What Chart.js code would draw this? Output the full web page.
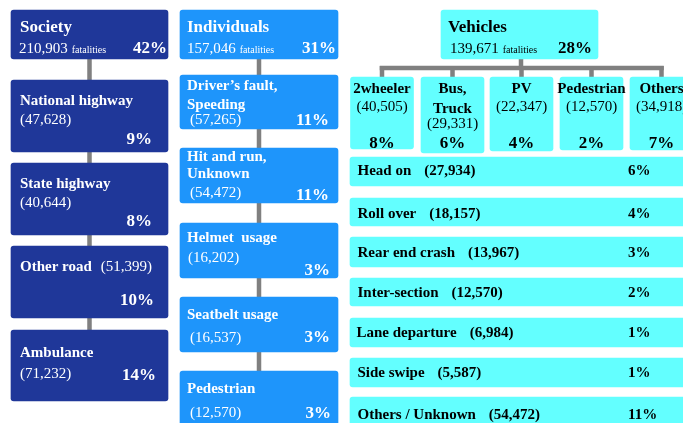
<!DOCTYPE html>
<html>
<head>
<meta charset="utf-8">
<script src="https://cdn.jsdelivr.net/npm/chart.js@4/dist/chart.umd.min.js"></script>
<style>
  html, body { margin: 0; padding: 0; background: #ffffff; }
  canvas { display: block; }
</style>
</head>
<body>
<canvas id="c" width="683" height="423"></canvas>
<script>
// ---------------- DATA ----------------
const topCategories = ['Society', 'Individuals', 'Vehicles'];
const topFatalities = [210903, 157046, 139671];
const topShares = [42, 31, 28];

const roadCategories = ['National highway', 'State highway', 'Other road', 'Ambulance'];
const roadFatalities = [47628, 40644, 51399, 71232];
const roadShares = [9, 8, 10, 14];

const individualCategories = ['Driver\u2019s fault, Speeding', 'Hit and run, Unknown', 'Helmet  usage', 'Seatbelt usage', 'Pedestrian'];
const individualFatalities = [57265, 54472, 16202, 16537, 12570];
const individualShares = [11, 11, 3, 3, 3];

const vehicleCategories = ['2wheeler', 'Bus, Truck', 'PV', 'Pedestrian', 'Others'];
const vehicleFatalities = [40505, 29331, 22347, 12570, 34918];
const vehicleShares = [8, 6, 4, 2, 7];

const crashCategories = ['Head on', 'Roll over', 'Rear end crash', 'Inter-section', 'Lane departure', 'Side swipe', 'Others / Unknown'];
const crashFatalities = [27934, 18157, 13967, 12570, 6984, 5587, 54472];
const crashShares = [6, 4, 3, 2, 1, 1, 11];

// ---------------- LAYOUT (diagram geometry, in canvas units) ----------------
const colLeft = { cx: 89.5, w: 157 };
const colMid = { cx: 259, w: 158 };
const colVeh = { cx: 519.5, w: 157 };
const topBox = { top: 10, bottom: 59 };
const roadTops = [80, 163, 246, 330];
const roadBottoms = [152, 235, 318, 401];
const indTops = [75, 148, 223, 297, 371];
const indBottoms = [129, 203, 278, 352, 426];
const subCenters = [382, 452.5, 521.5, 591.5, 661.5];
const subWidth = 63;
const subTop = 77;
const subBottoms = [149, 153, 151, 150, 150];
const rowBox = { cx: 525, w: 350 };
const rowTops = [157, 198, 237, 278, 318, 358, 397];
const rowBottoms = [186, 226, 267, 306, 347, 387, 430];
const busY = 68;

// text anchors
const roadTitleY = [105, 188, 271, 357];
const roadNumY = [124, 207, 271, 378];
const roadPctY = [144, 226, 305, 380];
const roadPctR = [152, 152, 154, 156];
const indTitleY = [[90, 109], [161, 178], [242], [319], [393]];
const indNumY = [124, 197, 262, 342, 417];
const indPctY = [125, 200, 275, 342, 418];
const indPctR = [329, 329, 330, 330, 331];
const rowTextY = [175, 218, 257, 297, 337, 377, 419];

// styles
const NAVY = '#1f3799';
const BLUE = '#1e95fb';
const CYAN = '#63ffff';
const GREY = '#808080';
const SERIF = '"Liberation Serif", "Times New Roman", serif';

const fmt = n => n.toLocaleString('en-US');

// ---------------- DATASETS ----------------
function barSet(points, color, w) {
  return {
    type: 'bar', data: points, backgroundColor: color, barThickness: w,
    grouped: false, borderRadius: 3, borderSkipped: false, borderWidth: 0, order: 0
  };
}
function lineSet(points) {
  return {
    type: 'line', data: points, borderColor: GREY, borderWidth: 4.5,
    pointRadius: 0, fill: false, order: 1, borderCapStyle: 'butt'
  };
}

const leftBoxes = [{ x: colLeft.cx, y: [topBox.top, topBox.bottom] }]
  .concat(roadCategories.map((c, i) => ({ x: colLeft.cx, y: [roadTops[i], roadBottoms[i]] })));
const midBoxes = [{ x: colMid.cx, y: [topBox.top, topBox.bottom] }]
  .concat(individualCategories.map((c, i) => ({ x: colMid.cx, y: [indTops[i], indBottoms[i]] })));
const vehBox = [{ x: colVeh.cx, y: [topBox.top, topBox.bottom] }];
const subBoxes = vehicleCategories.map((c, i) => ({ x: subCenters[i], y: [subTop, subBottoms[i]] }));
const rowBoxes = crashCategories.map((c, i) => ({ x: rowBox.cx, y: [rowTops[i], rowBottoms[i]] }));

const datasets = [
  barSet(leftBoxes, NAVY, colLeft.w),
  barSet(midBoxes, BLUE, colMid.w),
  barSet(vehBox, CYAN, colVeh.w),
  barSet(subBoxes, CYAN, subWidth),
  barSet(rowBoxes, CYAN, rowBox.w),
  lineSet([{ x: colLeft.cx, y: topBox.bottom }, { x: colLeft.cx, y: roadTops[roadTops.length - 1] }]),
  lineSet([{ x: colMid.cx, y: topBox.bottom }, { x: colMid.cx, y: indTops[indTops.length - 1] }]),
  lineSet([{ x: 521, y: topBox.bottom }, { x: 521, y: busY }]),
  lineSet([{ x: subCenters[0] - 2.25, y: busY }, { x: subCenters[subCenters.length - 1] + 2.25, y: busY }])
].concat(subCenters.map(cx => lineSet([{ x: cx, y: busY - 2 }, { x: cx, y: subTop }])));

// ---------------- TEXT PLUGIN ----------------
const textPlugin = {
  id: 'diagramText',
  afterDatasetsDraw(chart) {
    const ctx = chart.ctx;
    const X = v => chart.scales.x.getPixelForValue(v);
    const Y = v => chart.scales.y.getPixelForValue(v);
    function t(str, x, y, font, color, align) {
      ctx.font = font;
      ctx.fillStyle = color;
      ctx.textAlign = align || 'left';
      ctx.textBaseline = 'alphabetic';
      ctx.fillText(str, X(x), Y(y));
      return ctx.measureText(str).width;
    }
    const B17 = 'bold 17px ' + SERIF;
    const B15 = 'bold 15px ' + SERIF;
    const N15 = '15px ' + SERIF;
    const N10 = '10px ' + SERIF;
    ctx.save();

    // top boxes
    const topX = [[20, 19, 167], [187, 187, 336], [448, 450, 592]];
    const topColor = ['#ffffff', '#ffffff', '#000000'];
    topCategories.forEach((c, i) => {
      t(c, topX[i][0], 32, B17, topColor[i]);
      const w = t(fmt(topFatalities[i]), topX[i][1], 53, N15, topColor[i]);
      t('fatalities', topX[i][1] + w + 4, 53, N10, topColor[i]);
      t(topShares[i] + '%', topX[i][2], 53, B17, topColor[i], 'right');
    });

    // roads
    roadCategories.forEach((c, i) => {
      const w = t(c, 20, roadTitleY[i], B15, '#ffffff');
      const num = '(' + fmt(roadFatalities[i]) + ')';
      if (roadNumY[i] === roadTitleY[i]) t(num, 20 + w + 9, roadNumY[i], N15, '#ffffff');
      else t(num, 20, roadNumY[i], N15, '#ffffff');
      t(roadShares[i] + '%', roadPctR[i], roadPctY[i], B17, '#ffffff', 'right');
    });

    // individuals
    individualCategories.forEach((c, i) => {
      const parts = c.indexOf(', ') >= 0 ? [c.split(', ')[0] + ',', c.split(', ')[1]] : [c];
      parts.forEach((p, k) => t(p, 187, indTitleY[i][k], B15, '#ffffff'));
      t('(' + fmt(individualFatalities[i]) + ')', i === 2 ? 188 : 190, indNumY[i], N15, '#ffffff');
      t(individualShares[i] + '%', indPctR[i], indPctY[i], B17, '#ffffff', 'right');
    });

    // vehicle sub-boxes
    vehicleCategories.forEach((c, i) => {
      const cx = subCenters[i];
      const parts = c.indexOf(', ') >= 0 ? [c.split(', ')[0] + ',', c.split(', ')[1]] : [c];
      parts.forEach((p, k) => t(p, cx, 93 + k * 20, B15, '#000000', 'center'));
      t('(' + fmt(vehicleFatalities[i]) + ')', cx, parts.length > 1 ? 128 : 111, N15, '#000000', 'center');
      t(vehicleShares[i] + '%', cx, 148, B17, '#000000', 'center');
    });

    // crash rows
    crashCategories.forEach((c, i) => {
      const x0 = i === 4 ? 356.5 : 357.5;
      const w = t(c, x0, rowTextY[i], B15, '#000000');
      t('(' + fmt(crashFatalities[i]) + ')', x0 + w + 13, rowTextY[i], B15, '#000000');
      t(crashShares[i] + '%', 628, rowTextY[i], B15, '#000000');
    });
    ctx.restore();
  }
};

new Chart(document.getElementById('c'), {
  type: 'bar',
  data: { datasets },
  options: {
    responsive: false,
    animation: false,
    events: [],
    layout: { padding: 0 },
    plugins: { legend: { display: false }, tooltip: { enabled: false } },
    scales: {
      x: { type: 'linear', min: 0, max: 683, display: false, offset: false },
      y: { type: 'linear', min: 0, max: 423, reverse: true, display: false, beginAtZero: false }
    }
  },
  plugins: [textPlugin]
});
</script>
</body>
</html>
